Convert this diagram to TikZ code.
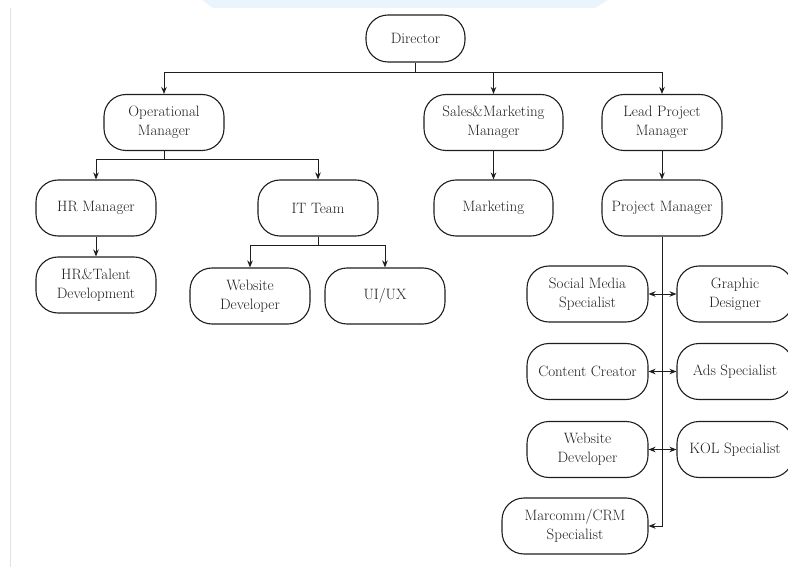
\documentclass[tikz,border=0pt]{standalone}
\usepackage{fontspec}
\usetikzlibrary{arrows.meta}
\definecolor{bandblue}{HTML}{EAF4FD}
\definecolor{edgegray}{HTML}{E2E2E2}
\definecolor{ink}{HTML}{1E1E1E}
\tikzset{
  box/.style={draw=ink, line width=1.1pt, rounded corners=22pt, minimum width=120pt,
    minimum height=56pt, align=center, inner sep=2pt, text=ink,
    font=\fontsize{15}{19}\selectfont},
  link/.style={draw=ink, line width=1pt},
  arr/.style={link, -{Stealth[length=7pt,width=5.5pt]}},
  darr/.style={link, {Stealth[length=7pt,width=5.5pt]}-{Stealth[length=7pt,width=5.5pt]}}
}
\begin{document}
\begin{tikzpicture}[x=1pt,y=-1pt]
\useasboundingbox (0,0) rectangle (788,567);
% background details
\fill[bandblue] (202,0) -- (608,0) -- (595,8) -- (213,8) -- cycle;
\draw[edgegray, line width=1pt] (10,8) -- (10,567);

% nodes
\node[box, minimum width=99pt, minimum height=47pt] (dir) at (415.5,38.5) {Director};
\node[box] (op) at (164,122.5) {Operational\\Manager};
\node[box, minimum width=139pt] (sm) at (493.5,122.5) {Sales\&Marketing\\Manager};
\node[box] (lpm) at (662,122.5) {Lead Project\\Manager};
\node[box] (hr) at (96,208) {HR Manager};
\node[box] (it) at (318,208) {IT Team};
\node[box, minimum width=119pt] (mk) at (493.5,208) {Marketing};
\node[box] (pm) at (662,208) {Project Manager};
\node[box] (hrt) at (96,285) {HR\&Talent\\Development};
\node[box] (wd) at (250,296) {Website\\Developer};
\node[box] (ui) at (385,296) {UI/UX};
\node[box, minimum width=121pt] (sms) at (587.5,294) {Social Media\\Specialist};
\node[box, minimum width=116pt] (gd) at (735,294) {Graphic\\Designer};
\node[box, minimum width=121pt] (cc) at (587.5,371.5) {Content Creator};
\node[box, minimum width=116pt] (ads) at (735,371.5) {Ads Specialist};
\node[box, minimum width=121pt] (wd2) at (587.5,449.5) {Website\\Developer};
\node[box, minimum width=116pt] (kol) at (735,449.5) {KOL Specialist};
\node[box, minimum width=146pt] (mc) at (575,526) {Marcomm/CRM\\Specialist};

% connectors
\coordinate (dbus) at (415.5,73);
\draw[link] (dir.south) -- (dbus);
\draw[arr] (dbus) -| (op.north);
\draw[arr] (dbus) -| (sm.north);
\draw[arr] (dbus) -| (lpm.north);

\coordinate (obus) at (164,160);
\draw[link] (op.south) -- (obus);
\draw[arr] (obus) -| (hr.north);
\draw[arr] (obus) -| (it.north);

\draw[arr] (hr.south) -- (hrt.north);

\coordinate (ibus) at (318,246);
\draw[link] (it.south) -- (ibus);
\draw[arr] (ibus) -| (wd.north);
\draw[arr] (ibus) -| (ui.north);

\draw[arr] (sm.south) -- (mk.north);
\draw[arr] (lpm.south) -- (pm.north);

\draw[arr] (pm.south) |- (mc.east);
\draw[darr] (sms.east) -- (gd.west);
\draw[darr] (cc.east) -- (ads.west);
\draw[darr] (wd2.east) -- (kol.west);
\end{tikzpicture}
\end{document}
